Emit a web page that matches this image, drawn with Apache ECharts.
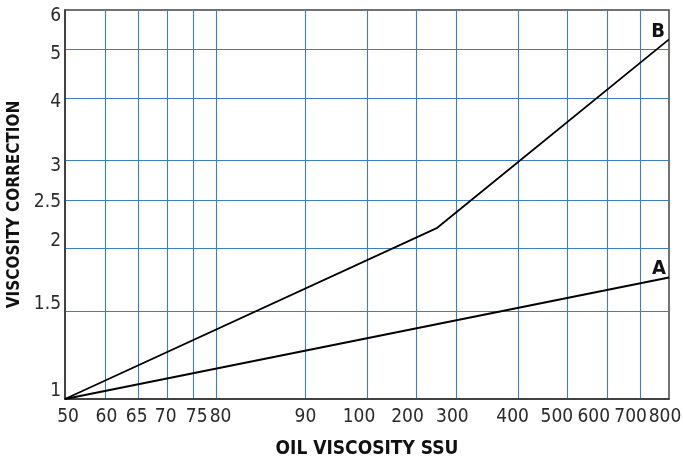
<!DOCTYPE html>
<html>
<head>
<meta charset="utf-8">
<script src="https://cdn.jsdelivr.net/npm/echarts@6/dist/echarts.min.js"></script>
<style>
html,body{margin:0;padding:0;background:#fff;}
#chart{width:683px;height:462px;}
</style>
</head>
<body>
<div id="chart"></div>
<script>
// ---- Data ----
// Oil viscosity (SSU) tick labels on the x axis
const xTicks = [50, 60, 65, 70, 75, 80, 90, 100, 200, 300, 400, 500, 600, 700, 800];
// Viscosity correction tick labels on the y axis
const yTicks = [1, 1.5, 2, 2.5, 3, 4, 5, 6];
// Curve A: [SSU, correction]
const curveA = [[50, 1.0], [800, 1.75]];
// Curve B: [SSU, correction]
const curveB = [[50, 1.0], [252, 2.2], [800, 5.24]];
const curveNames = ['A', 'B'];

// ---- Chart's own (non-uniform) SSU scale: where each SSU tick falls on a 0..1000 axis ----
const ssuScaleStops = [0, 67, 122, 170, 213, 251, 398, 500, 582, 648, 751, 831, 897, 953, 1000];
function ssuToAxis(v) {
  for (let i = 0; i < xTicks.length - 1; i++) {
    if (v <= xTicks[i + 1]) {
      const t = (v - xTicks[i]) / (xTicks[i + 1] - xTicks[i]);
      return ssuScaleStops[i] + t * (ssuScaleStops[i + 1] - ssuScaleStops[i]);
    }
  }
  return ssuScaleStops[ssuScaleStops.length - 1];
}

// ---- Styling ----
const FONT = '"Liberation Sans Narrow", "DejaVu Sans Condensed", sans-serif';
const TXT = '#2a2a2a';
const GRIDBLUE = '#3d7dc0';
// label nudges (px) to mimic the hand-placed labels of the original
const xNudge = [3, 1, -2, -2, 3, 4, 0, -8, -9, -4, -6, -10, -13, -10, -4];
const yNudge = {1: -8, 1.5: -7, 2: -7, 2.5: 2, 3: 6, 4: 4, 5: 4, 6: 6};

const xRich = {};
xTicks.forEach((t, i) => {
  const d = xNudge[i];
  xRich['x' + i] = {
    fontFamily: FONT, fontSize: 19, color: TXT,
    padding: d >= 0 ? [0, 0, 0, 2 * d] : [0, -2 * d, 0, 0]
  };
});
const yRich = {};
yTicks.forEach((t, i) => {
  const d = yNudge[t] || 0;
  yRich['y' + i] = {
    fontFamily: FONT, fontSize: 19, color: TXT,
    padding: d >= 0 ? [2 * d, 0, 0, 0] : [0, 0, -2 * d, 0]
  };
});

function mkSeries(name, pts, labelOffset) {
  const mapped = pts.map(p => [ssuToAxis(p[0]), p[1]]);
  const last = mapped[mapped.length - 1];
  return {
    name: name,
    type: 'line',
    data: mapped,
    showSymbol: false,
    symbol: 'none',
    lineStyle: {color: '#000', width: 1.8},
    silent: true,
    z: 5,
    markPoint: {
      symbol: 'circle',
      symbolSize: 1,
      itemStyle: {color: 'rgba(0,0,0,0)'},
      silent: true,
      data: [{
        coord: last,
        label: {
          show: true, formatter: name, position: 'top', distance: 0,
          offset: labelOffset,
          fontFamily: FONT, fontWeight: 'bold', fontSize: 20, color: '#111'
        }
      }]
    }
  };
}

const chart = echarts.init(document.getElementById('chart'), null, {renderer: 'canvas'});
chart.setOption({
  animation: false,
  backgroundColor: '#fff',
  grid: {
    left: 65, right: 14, top: 10, bottom: 63,
    show: true, borderColor: '#444', borderWidth: 1.5,
    containLabel: false, outerBoundsMode: 'none'
  },
  xAxis: {
    type: 'value',
    min: 0, max: 1000,
    name: 'OIL VISCOSITY SSU',
    nameLocation: 'middle',
    nameGap: 41,
    nameTextStyle: {fontFamily: FONT, fontWeight: 'bold', fontSize: 19, color: '#111'},
    axisLine: {show: true, lineStyle: {color: '#333', width: 1.5}},
    axisTick: {show: false, customValues: ssuScaleStops.slice(1, -1)},
    axisLabel: {
      show: true, margin: 9,
      customValues: ssuScaleStops,
      formatter: function (v) {
        let idx = 0, best = Infinity;
        ssuScaleStops.forEach((s, i) => { const dd = Math.abs(s - v); if (dd < best) { best = dd; idx = i; } });
        return '{x' + idx + '|' + xTicks[idx] + '}';
      },
      rich: xRich,
      hideOverlap: false
    },
    splitLine: {show: true, lineStyle: {color: GRIDBLUE, width: 1.1}}
  },
  yAxis: {
    type: 'log',
    logBase: 10,
    min: 1, max: 6,
    name: 'VISCOSITY CORRECTION',
    nameLocation: 'middle',
    nameGap: 34,
    nameRotate: 90,
    nameTextStyle: {fontFamily: FONT, fontWeight: 'bold', fontSize: 17, color: '#111'},
    axisLine: {show: true, lineStyle: {color: '#333', width: 1.5}},
    axisTick: {show: false, customValues: yTicks.slice(1, -1)},
    axisLabel: {
      show: true, margin: 4,
      customValues: yTicks,
      formatter: function (v) {
        let idx = 0, best = Infinity;
        yTicks.forEach((s, i) => { const dd = Math.abs(s - v); if (dd < best) { best = dd; idx = i; } });
        return '{y' + idx + '|' + yTicks[idx] + '}';
      },
      rich: yRich,
      hideOverlap: false
    },
    splitLine: {show: true, lineStyle: {color: GRIDBLUE, width: 1.1}}
  },
  series: [
    mkSeries(curveNames[0], curveA, [-10, 2]),
    mkSeries(curveNames[1], curveB, [-11, 3])
  ]
});
</script>
</body>
</html>
